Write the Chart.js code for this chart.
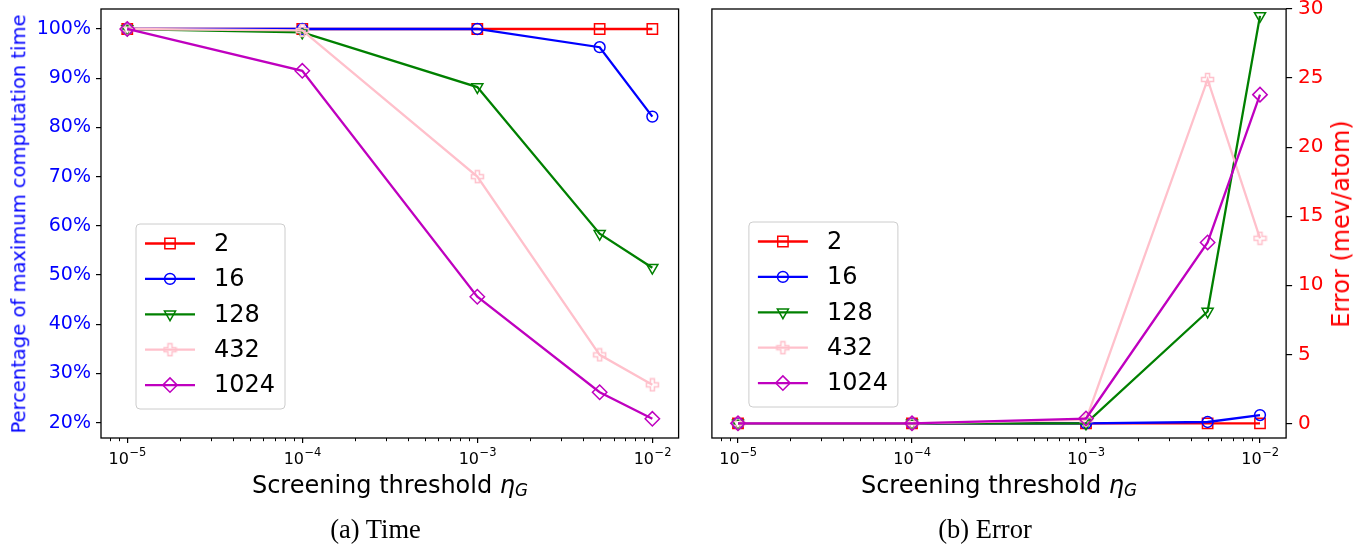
<!DOCTYPE html>
<html><head><meta charset="utf-8">
<script src="https://cdn.jsdelivr.net/npm/chart.js@4.4.0/dist/chart.umd.min.js"></script>
<style>
html,body{margin:0;padding:0;background:#fff;}
#wrap{position:relative;width:1365px;height:545px;overflow:hidden;font-family:"DejaVu Sans",sans-serif;}
.cv{position:absolute;top:0;}
.t{position:absolute;white-space:nowrap;line-height:1;}
.sub{font-size:0.7em;position:relative;top:0.22em;font-style:italic;}
</style></head>
<body><div id="wrap">
<canvas id="c1" class="cv" width="690" height="545" style="left:0px"></canvas>
<canvas id="c2" class="cv" width="675" height="545" style="left:690px"></canvas>
<div class="t" id="ylabL" style="left:19px;top:223.5px;font-size:19.5px;color:#0000ff;transform:translate(-50%,-50%) rotate(-90deg);">Percentage of maximum computation time</div>
<div class="t" id="ylabR" style="left:1341px;top:223.5px;font-size:24px;color:#ff0000;transform:translate(-50%,-50%) rotate(-90deg);">Error (mev/atom)</div>
<div class="t" style="left:390px;top:484.7px;font-size:24px;color:#000;transform:translate(-50%,-50%);">Screening threshold <i>η</i><span class="sub">G</span></div>
<div class="t" style="left:999px;top:484.7px;font-size:24px;color:#000;transform:translate(-50%,-50%);">Screening threshold <i>η</i><span class="sub">G</span></div>
<div class="t" style="left:375.5px;top:529px;font-size:26.5px;font-family:'Liberation Serif',serif;color:#000;transform:translate(-50%,-50%);">(a) Time</div>
<div class="t" style="left:985px;top:529px;font-size:26.5px;font-family:'Liberation Serif',serif;color:#000;transform:translate(-50%,-50%);">(b) Error</div>
</div>
<script>
// ---------- data ----------
const thresholds = [1e-5, 1e-4, 1e-3, 5e-3, 1e-2];
const seriesLabels = ['2', '16', '128', '432', '1024'];
const time2    = [100, 100, 100, 100, 100];
const time16   = [100, 100, 100, 96.3, 82.2];
const time128  = [100, 99.3, 88.2, 58.4, 51.5];
const time432  = [100, 99.7, 70.0, 33.8, 27.7];
const time1024 = [100, 91.5, 45.6, 26.2, 20.8];
const err2    = [0, 0, 0, 0, 0];
const err16   = [0, 0, 0, 0.1, 0.6];
const err128  = [0, 0, 0, 8.1, 29.5];
const err432  = [0, 0, 0.25, 24.9, 13.4];
const err1024 = [0, 0, 0.35, 13.1, 23.8];
const xTicks = [1e-5, 1e-4, 1e-3, 1e-2];
const xTickBase = '10';
const xTickExponents = ['\u22125', '\u22124', '\u22123', '\u22122'];
const timeTicks = [20, 30, 40, 50, 60, 70, 80, 90, 100];
const timeTickLabels = ['20%', '30%', '40%', '50%', '60%', '70%', '80%', '90%', '100%'];
const errTicks = [0, 5, 10, 15, 20, 25, 30];
const errTickLabels = ['0', '5', '10', '15', '20', '25', '30'];

// ---------- styles ----------
const colors = ['#ff0000', '#0000ff', '#008000', '#ffc0cb', '#bf00bf'];
function plusMarker(color) {
  const c = document.createElement('canvas');
  c.width = 15; c.height = 15;
  const g = c.getContext('2d');
  const cx = 7.5, cy = 7.5, s = 6, a = 2;
  g.strokeStyle = color; g.lineWidth = 1.5; g.lineJoin = 'miter';
  g.beginPath();
  const pts = [[-a,-s],[a,-s],[a,-a],[s,-a],[s,a],[a,a],[a,s],[-a,s],[-a,a],[-s,a],[-s,-a],[-a,-a]];
  pts.forEach((p,i)=>{ if(i===0) g.moveTo(cx+p[0],cy+p[1]); else g.lineTo(cx+p[0],cy+p[1]); });
  g.closePath(); g.stroke();
  return c;
}
const markerStyles = [
  {pointStyle:'rect', pointRadius:7.3, pointRotation:0},
  {pointStyle:'circle', pointRadius:5.4, pointRotation:0},
  {pointStyle:'triangle', pointRadius:6.4, pointRotation:180},
  {pointStyle:plusMarker('#ffc0cb'), pointRadius:6, pointRotation:0},
  {pointStyle:'rectRot', pointRadius:7.2, pointRotation:0}
];

function makeDatasets(arrs) {
  return arrs.map((arr, i) => Object.assign({
    label: seriesLabels[i],
    data: thresholds.map((x, j) => ({x: x, y: arr[j]})),
    borderColor: colors[i],
    pointBorderColor: colors[i],
    pointBackgroundColor: 'rgba(0,0,0,0)',
    pointBorderWidth: 1.5,
    borderWidth: 2.3,
    tension: 0,
    order: 4 - i,
    clip: false
  }, markerStyles[i]));
}

// ---------- plugins ----------
function drawMarker(ctx, ds, x, y) {
  ctx.save();
  ctx.strokeStyle = ds.pointBorderColor;
  ctx.fillStyle = 'rgba(0,0,0,0)';
  ctx.lineWidth = ds.pointBorderWidth;
  if (Chart.helpers && Chart.helpers.drawPoint) {
    Chart.helpers.drawPoint(ctx, {pointStyle: ds.pointStyle, rotation: ds.pointRotation, radius: ds.pointRadius, borderWidth: ds.pointBorderWidth}, x, y);
  }
  ctx.restore();
}
const framePlugin = {
  id: 'frameLegend',
  afterDraw(chart) {
    // x tick labels with superscript exponents, placed by the scale
    const ctx = chart.ctx, a = chart.chartArea, xs = chart.scales.x;
    ctx.save();
    ctx.fillStyle = '#000';
    ctx.textBaseline = 'alphabetic';
    xs.ticks.forEach((t, i) => {
      const px = xs.getPixelForValue(t.value);
      ctx.font = '16px "DejaVu Sans"';
      const wb = ctx.measureText(xTickBase).width;
      ctx.font = '11.5px "DejaVu Sans"';
      const we = ctx.measureText(xTickExponents[i]).width;
      const x0 = px - (wb + we) / 2;
      const base = a.bottom + 25.5;
      ctx.font = '16px "DejaVu Sans"';
      ctx.textAlign = 'left';
      ctx.fillText(xTickBase, x0, base);
      ctx.font = '11.5px "DejaVu Sans"';
      ctx.fillText(xTickExponents[i], x0 + wb + 0.5, base - 7.5);
    });
    ctx.restore();
  },
  afterDatasetsDraw(chart, args, opts) {
    const ctx = chart.ctx, a = chart.chartArea;
    ctx.save();
    // minor ticks on log x axis
    const xs = chart.scales.x;
    ctx.strokeStyle = '#000'; ctx.lineWidth = 1;
    for (let n = -6; n <= -1; n++) {
      for (let k = 2; k <= 9; k++) {
        const v = k * Math.pow(10, n);
        if (v < xs.min || v > xs.max) continue;
        const px = Math.round(xs.getPixelForValue(v)) + 0.5;
        ctx.beginPath(); ctx.moveTo(px, a.bottom); ctx.lineTo(px, a.bottom + 3.2); ctx.stroke();
      }
    }
    // frame
    ctx.lineWidth = 1.3; ctx.strokeStyle = '#000';
    ctx.strokeRect(a.left, a.top, a.right - a.left, a.bottom - a.top);
    // legend
    const x0 = a.left + opts.dx, y0 = opts.top, w = 149, h = 185, r = 4;
    ctx.beginPath();
    ctx.moveTo(x0 + r, y0); ctx.lineTo(x0 + w - r, y0); ctx.arcTo(x0 + w, y0, x0 + w, y0 + r, r);
    ctx.lineTo(x0 + w, y0 + h - r); ctx.arcTo(x0 + w, y0 + h, x0 + w - r, y0 + h, r);
    ctx.lineTo(x0 + r, y0 + h); ctx.arcTo(x0, y0 + h, x0, y0 + h - r, r);
    ctx.lineTo(x0, y0 + r); ctx.arcTo(x0, y0, x0 + r, y0, r); ctx.closePath();
    ctx.fillStyle = 'rgba(255,255,255,0.8)'; ctx.fill();
    ctx.strokeStyle = '#cccccc'; ctx.lineWidth = 1; ctx.stroke();
    chart.data.datasets.forEach((ds, i) => {
      const y = y0 + 19.5 + i * 35.4;
      ctx.strokeStyle = ds.borderColor; ctx.lineWidth = ds.borderWidth;
      ctx.beginPath(); ctx.moveTo(x0 + 9, y); ctx.lineTo(x0 + 59, y); ctx.stroke();
      drawMarker(ctx, ds, x0 + 34, y);
      ctx.fillStyle = '#000';
      ctx.font = '24px "DejaVu Sans"';
      ctx.textAlign = 'left'; ctx.textBaseline = 'middle';
      ctx.fillText(ds.label, x0 + 78, y + 1);
    });
    ctx.restore();
  }
};

function xScale() {
  return {
    type: 'logarithmic',
    min: Math.pow(10, -5.15), max: Math.pow(10, -1.85),
    afterBuildTicks: s => { s.ticks = xTicks.map(v => ({value: v})); },
    afterFit: s => { s.height = 107; s.paddingLeft = 0; s.paddingRight = 0; },
    ticks: {autoSkip: false, maxRotation: 0, color: '#000', padding: 3,
      font: {family: 'DejaVu Sans', size: 16},
      callback: () => ''},
    grid: {display: true, drawOnChartArea: false, drawTicks: true, tickLength: 5, color: '#000', lineWidth: 1.2},
    border: {display: false}
  };
}

const common = {
  responsive: false, animation: false, devicePixelRatio: 1,
  plugins: {legend: {display: false}, tooltip: {enabled: false}, title: {display: false}},
  events: []
};

new Chart(document.getElementById('c1'), {
  type: 'line',
  data: {datasets: makeDatasets([time2, time16, time128, time432, time1024])},
  options: Object.assign({}, common, {
    layout: {padding: {left: 0, right: 690 - 678.6, top: 9, bottom: 0}},
    plugins: Object.assign({}, common.plugins, {frameLegend: {dx: 35, top: 224}}),
    scales: {
      x: xScale(),
      y: {
        type: 'linear', position: 'left', min: 16.9, max: 104.06,
        afterBuildTicks: s => { s.ticks = timeTicks.map(v => ({value: v})); },
        afterFit: s => { s.width = 101; s.paddingTop = 0; s.paddingBottom = 0; },
        ticks: {color: '#0000ff', padding: 5, font: {family: 'DejaVu Sans', size: 19},
          callback: (v, i) => timeTickLabels[i]},
        grid: {display: true, drawOnChartArea: false, drawTicks: true, tickLength: 5, color: '#000', lineWidth: 1.2},
        border: {display: false}
      }
    }
  }),
  plugins: [framePlugin]
});

new Chart(document.getElementById('c2'), {
  type: 'line',
  data: {datasets: makeDatasets([err2, err16, err128, err432, err1024])},
  options: Object.assign({}, common, {
    layout: {padding: {left: 21.9, right: 0, top: 9, bottom: 0}},
    plugins: Object.assign({}, common.plugins, {frameLegend: {dx: 37, top: 222}}),
    scales: {
      x: xScale(),
      y: {
        type: 'linear', position: 'right', min: -1.06, max: 30,
        afterBuildTicks: s => { s.ticks = errTicks.map(v => ({value: v})); },
        afterFit: s => { s.width = 675 - 596.1; s.paddingTop = 0; s.paddingBottom = 0; },
        ticks: {color: '#ff0000', padding: 6, font: {family: 'DejaVu Sans', size: 20},
          callback: (v, i) => errTickLabels[i]},
        grid: {display: true, drawOnChartArea: false, drawTicks: true, tickLength: 6, color: '#000', lineWidth: 1.2},
        border: {display: false}
      }
    }
  }),
  plugins: [framePlugin]
});
</script>
</body></html>
